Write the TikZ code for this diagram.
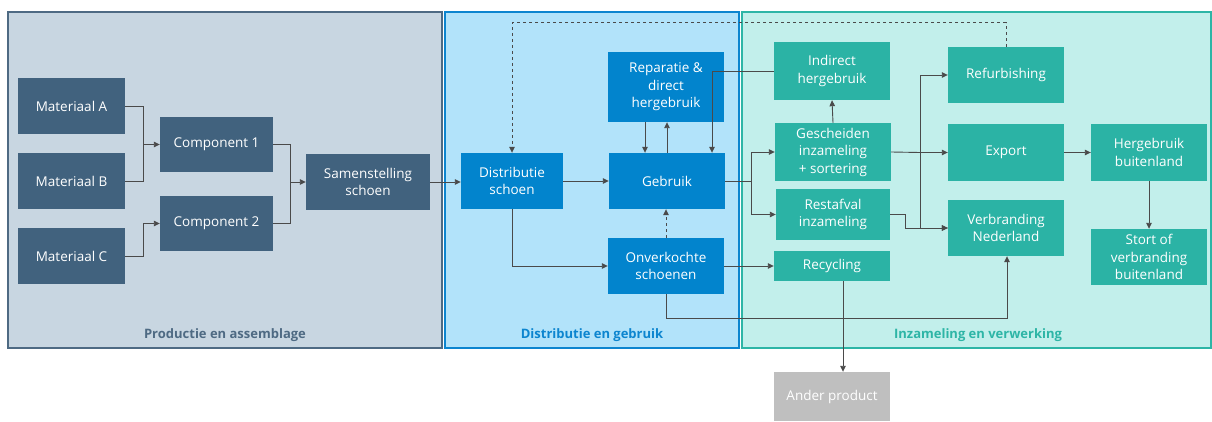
\documentclass[tikz,border=0pt]{standalone}
\usepackage{fontspec}
\setmainfont{Open Sans}
\usetikzlibrary{arrows.meta}
\definecolor{pfill}{HTML}{C8D6E1}
\definecolor{pline}{HTML}{4E6A83}
\definecolor{pnode}{HTML}{41627E}
\definecolor{bfill}{HTML}{B2E3FA}
\definecolor{bline}{HTML}{0C85CF}
\definecolor{bnode}{HTML}{0284CD}
\definecolor{tfill}{HTML}{C2EFEB}
\definecolor{tline}{HTML}{2DB5A6}
\definecolor{tnode}{HTML}{2BB3A5}
\definecolor{gnode}{HTML}{BFBFBF}
\definecolor{conn}{HTML}{4A4A4A}
\tikzset{
  box/.style={draw=none, inner sep=1pt, align=center, text=white,
    font=\fontsize{13.5}{17.5}\selectfont},
  lbl/.style={font=\fontsize{13}{15}\selectfont\bfseries, anchor=center},
  ln/.style={draw=conn, line width=0.9pt},
  arr/.style={ln, -{Triangle[length=6pt,width=5.5pt]}},
  panel/.style={line width=1.5pt},
}
\begin{document}
\begin{tikzpicture}[x=1pt,y=-1pt]
\useasboundingbox (0,0) rectangle (1212,422);
% panels
\draw[panel, draw=pline, fill=pfill] (8,12) rectangle (442,348);
\draw[panel, draw=bline, fill=bfill] (445,12) rectangle (739,348);
\draw[panel, draw=tline, fill=tfill] (742,12) rectangle (1211,348);
\node[lbl, text=pline] (l1) at (225,335) {Productie en assemblage};
\node[lbl, text=bline] (l2) at (592,335) {Distributie en gebruik};
\node[lbl, text=tline] (l3) at (978,335) {Inzameling en verwerking};
% panel 1 nodes
\node[box, fill=pnode, minimum width=107, minimum height=56] (matA) at (71.5,106) {Materiaal A};
\node[box, fill=pnode, minimum width=107, minimum height=56] (matB) at (71.5,181) {Materiaal B};
\node[box, fill=pnode, minimum width=107, minimum height=56] (matC) at (71.5,256) {Materiaal C};
\node[box, fill=pnode, minimum width=113, minimum height=55] (comp1) at (216.5,144.5) {Component 1};
\node[box, fill=pnode, minimum width=113, minimum height=55] (comp2) at (216.5,223.5) {Component 2};
\node[box, fill=pnode, minimum width=124, minimum height=56] (samen) at (368,182) {Samenstelling\\schoen};
% panel 2 nodes
\node[box, fill=bnode, minimum width=102, minimum height=56] (distr) at (512,181) {Distributie\\schoen};
\node[box, fill=bnode, minimum width=116, minimum height=70] (repar) at (666,87) {Reparatie \&\\direct\\hergebruik};
\node[box, fill=bnode, minimum width=116, minimum height=56] (gebruik) at (667,181) {Gebruik};
\node[box, fill=bnode, minimum width=116, minimum height=56] (onverk) at (666,266) {Onverkochte\\schoenen};
% panel 3 nodes
\node[box, fill=tnode, minimum width=116, minimum height=58] (indirect) at (832,71) {Indirect\\hergebruik};
\node[box, fill=tnode, minimum width=116, minimum height=58] (gesch) at (833,152) {Gescheiden\\inzameling\\+ sortering};
\node[box, fill=tnode, minimum width=114, minimum height=51] (restaf) at (833,214.5) {Restafval\\inzameling};
\node[box, fill=tnode, minimum width=116, minimum height=30] (recyc) at (832,266) {Recycling};
\node[box, fill=tnode, minimum width=116, minimum height=56] (refurb) at (1006,75) {Refurbishing};
\node[box, fill=tnode, minimum width=116, minimum height=57] (export) at (1006,152.5) {Export};
\node[box, fill=tnode, minimum width=116, minimum height=56] (verbr) at (1006,228) {Verbranding\\Nederland};
\node[box, fill=tnode, minimum width=116, minimum height=57] (hergeb) at (1149,152.5) {Hergebruik\\buitenland};
\node[box, fill=tnode, minimum width=116, minimum height=56] (stort) at (1149,257) {Stort of\\verbranding\\buitenland};
\node[box, fill=gnode, minimum width=116, minimum height=49] (ander) at (832,396.5) {Ander product};
% junctions
\coordinate (j1) at (143,144.5);
\coordinate (j2) at (143,223.5);
\coordinate (j3) at (290,182);
\coordinate (j4) at (751,181);
\coordinate (j5) at (920,152.5);
% panel 1 connectors
\draw[ln] (matA.east) -| (j1);
\draw[ln] (matB.east) -| (j1);
\draw[arr] (j1) -- (comp1.west);
\draw[ln] (matC.east) -| (j2);
\draw[arr] (j2) -- (comp2.west);
\draw[ln] (comp1.east) -| (j3);
\draw[ln] (comp2.east) -| (j3);
\draw[arr] (j3) -- (samen.west);
\draw[arr] (samen.east) -- (distr.west |- samen.east);
% panel 2 connectors
\draw[arr] (distr.east) -- (gebruik.west |- distr.east);
\draw[arr] ([xshift=-21pt]repar.south) -- ([xshift=-21pt]repar.south |- gebruik.north);
\draw[arr] (gebruik.north) -- (gebruik.north |- repar.south);
\draw[arr] (indirect.west) -| ([xshift=45pt]gebruik.north);
\draw[arr, dashed] (onverk.north) -- (onverk.north |- gebruik.south);
\draw[arr] (distr.south) |- (onverk.west);
\draw[arr] (onverk.east) -- (recyc.west);
\draw[arr] (onverk.south) -- ++(0,24) -| ([xshift=1pt]verbr.south);
\draw[arr, dashed] (refurb.north) -- ++(0,-24) -| (distr.north);
% panel 3 connectors
\draw[ln] (gebruik.east) -- (j4);
\draw[arr] (j4) |- (gesch.west);
\draw[arr] (j4) |- (restaf.west);
\draw[arr] (gesch.north) -- (indirect.south);
\draw[ln] (gesch.east) -- (j5);
\draw[arr] (j5) -- (export.west);
\draw[arr] (j5) |- (refurb.west);
\draw[arr] (j5) |- (verbr.west);
\draw[arr] (restaf.east) -- ++(15,0) |- (verbr.west);
\draw[arr] (export.east) -- (hergeb.west);
\draw[arr] (hergeb.south) -- (stort.north);
\draw[arr] ([xshift=11pt]recyc.south) -- ([xshift=11pt]ander.north);
\end{tikzpicture}
\end{document}
